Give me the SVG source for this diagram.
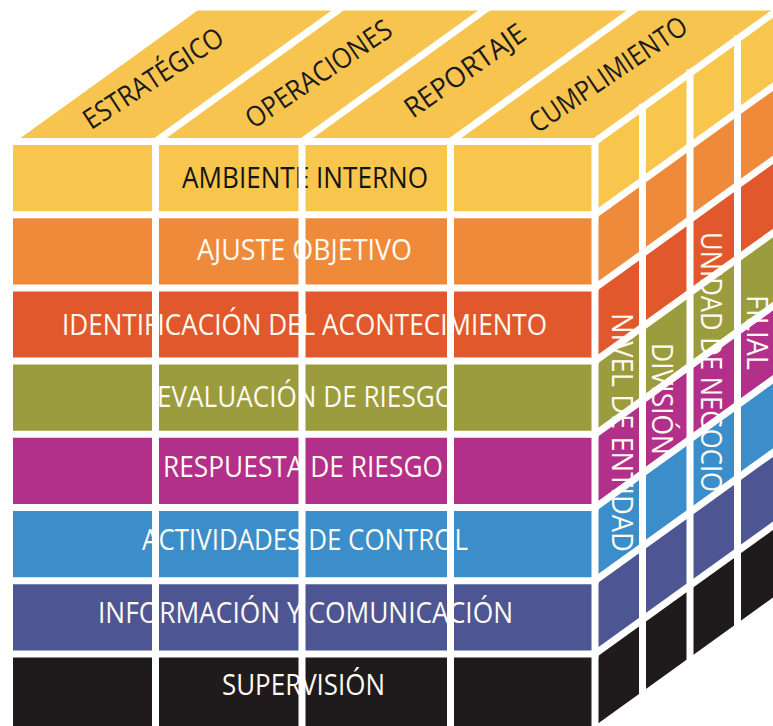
<svg xmlns="http://www.w3.org/2000/svg" width="773" height="726" viewBox="0 0 773 726">
<style>
.grid{stroke:#ffffff;stroke-width:7;fill:none;stroke-linecap:square}
.lbl{font-family:"Open Sans","Noto Sans","DejaVu Sans",sans-serif;font-size:30px;text-anchor:middle}
.w{fill:#fffaf2}
.k{fill:#141414}
.toplbl{font-family:"Open Sans","Noto Sans","DejaVu Sans",sans-serif;font-size:28px;fill:#1a1a1a;text-anchor:middle}
.side{font-family:"Open Sans","Noto Sans","DejaVu Sans",sans-serif;font-size:29px;fill:#fffaf2;text-anchor:middle}
</style>
<rect width="773" height="726" fill="#ffffff"/>

<g id="top-face">
  <polygon points="9.5,141.5 595,141.5 782,6.9 196.5,6.9" fill="#F6C44F"/>
  <text class="toplbl" transform="translate(158.5,86.5) rotate(-33)" textLength="161" lengthAdjust="spacingAndGlyphs">ESTRATÉGICO</text>
  <text class="toplbl" transform="translate(324,82) rotate(-34)" textLength="170" lengthAdjust="spacingAndGlyphs">OPERACIONES</text>
  <text class="toplbl" transform="translate(470.5,78.5) rotate(-35)" textLength="141" lengthAdjust="spacingAndGlyphs">REPORTAJE</text>
  <text class="toplbl" transform="translate(613.5,82.5) rotate(-34)" textLength="184" lengthAdjust="spacingAndGlyphs">CUMPLIMIENTO</text>
</g>

<g id="row-ambiente">
  <rect x="9.5" y="141.5" width="585.5" height="73.2" fill="#F8C64D"/>
  <polygon points="595,141.5 782,6.9 782,80.1 595,214.7" fill="#F8C64D"/>
  <text class="lbl k" x="305" y="188" textLength="246" lengthAdjust="spacingAndGlyphs">AMBIENTE INTERNO</text>
</g>
<g id="row-ajuste">
  <rect x="9.5" y="214.7" width="585.5" height="73.2" fill="#EF8A3A"/>
  <polygon points="595,214.7 782,80.1 782,153.3 595,287.9" fill="#EF8A3A"/>
  <text class="lbl w" x="304.5" y="260" textLength="215" lengthAdjust="spacingAndGlyphs">AJUSTE OBJETIVO</text>
</g>
<g id="row-identificacion">
  <rect x="9.5" y="287.9" width="585.5" height="73.2" fill="#E2582D"/>
  <polygon points="595,287.9 782,153.3 782,226.5 595,361.1" fill="#E2582D"/>
  <text class="lbl w" x="304.5" y="335" textLength="485" lengthAdjust="spacingAndGlyphs">IDENTIFICACIÓN DEL ACONTECIMIENTO</text>
</g>
<g id="row-evaluacion">
  <rect x="9.5" y="361.1" width="585.5" height="73.2" fill="#9A9C3D"/>
  <polygon points="595,361.1 782,226.5 782,299.7 595,434.3" fill="#9A9C3D"/>
  <text class="lbl w" x="306" y="407" textLength="298" lengthAdjust="spacingAndGlyphs">EVALUACIÓN DE RIESGO</text>
</g>
<g id="row-respuesta">
  <rect x="9.5" y="434.3" width="585.5" height="73.2" fill="#B22F8A"/>
  <polygon points="595,434.3 782,299.7 782,372.9 595,507.5" fill="#B22F8A"/>
  <text class="lbl w" x="303" y="477" textLength="280" lengthAdjust="spacingAndGlyphs">RESPUESTA DE RIESGO</text>
</g>
<g id="row-actividades">
  <rect x="9.5" y="507.5" width="585.5" height="73.2" fill="#3B8ECA"/>
  <polygon points="595,507.5 782,372.9 782,446.1 595,580.7" fill="#3B8ECA"/>
  <text class="lbl w" x="305" y="550" textLength="326" lengthAdjust="spacingAndGlyphs">ACTIVIDADES DE CONTROL</text>
</g>
<g id="row-informacion">
  <rect x="9.5" y="580.7" width="585.5" height="73.2" fill="#4D5593"/>
  <polygon points="595,580.7 782,446.1 782,519.3 595,653.9" fill="#4D5593"/>
  <text class="lbl w" x="305.5" y="623" textLength="415" lengthAdjust="spacingAndGlyphs">INFORMACIÓN Y COMUNICACIÓN</text>
</g>
<g id="row-supervision">
  <rect x="9.5" y="653.9" width="585.5" height="76.1" fill="#1F1B1D"/>
  <polygon points="595,653.9 782,519.3 782,595.4 595,730" fill="#1F1B1D"/>
  <text class="lbl w" x="303.5" y="695" textLength="163" lengthAdjust="spacingAndGlyphs">SUPERVISIÓN</text>
</g>

<g id="level-entidad">
  <text class="side" transform="translate(622,432.5) rotate(90)" y="10" textLength="239" lengthAdjust="spacingAndGlyphs">NIVEL DE ENTIDAD</text>
</g>
<g id="level-division">
  <text class="side" transform="translate(662,399) rotate(90)" y="10" textLength="112" lengthAdjust="spacingAndGlyphs">DIVISIÓN</text>
</g>
<g id="level-unidad">
  <text class="side" transform="translate(711,362) rotate(90)" y="10" textLength="260" lengthAdjust="spacingAndGlyphs">UNIDAD DE NEGOCIO</text>
</g>
<g id="level-filial">
  <text class="side" transform="translate(757,332.5) rotate(90)" y="10" textLength="75" lengthAdjust="spacingAndGlyphs">FILIAL</text>
</g>

<g id="grid-lines" class="grid">
  <line x1="9.5" y1="141.5" x2="196.5" y2="6.9"/>
  <line x1="196.5" y1="6.9" x2="782" y2="6.9"/>
  <line x1="155.5" y1="141.5" x2="342.5" y2="6.9"/>
  <line x1="302" y1="141.5" x2="489" y2="6.9"/>
  <line x1="450.5" y1="141.5" x2="637.5" y2="6.9"/>
  <line x1="9.5" y1="141.5" x2="9.5" y2="730"/>
  <line x1="155.5" y1="141.5" x2="155.5" y2="730"/>
  <line x1="302" y1="141.5" x2="302" y2="730"/>
  <line x1="450.5" y1="141.5" x2="450.5" y2="730"/>
  <line x1="595" y1="141.5" x2="595" y2="730"/>
  <line x1="9.5" y1="141.5" x2="595" y2="141.5"/>
  <line x1="9.5" y1="214.7" x2="595" y2="214.7"/>
  <line x1="9.5" y1="287.9" x2="595" y2="287.9"/>
  <line x1="9.5" y1="361.1" x2="595" y2="361.1"/>
  <line x1="9.5" y1="434.3" x2="595" y2="434.3"/>
  <line x1="9.5" y1="507.5" x2="595" y2="507.5"/>
  <line x1="9.5" y1="580.7" x2="595" y2="580.7"/>
  <line x1="9.5" y1="653.9" x2="595" y2="653.9"/>
  <line x1="595" y1="141.5" x2="782" y2="6.9"/>
  <line x1="595" y1="214.7" x2="782" y2="80.1"/>
  <line x1="595" y1="287.9" x2="782" y2="153.3"/>
  <line x1="595" y1="361.1" x2="782" y2="226.5"/>
  <line x1="595" y1="434.3" x2="782" y2="299.7"/>
  <line x1="595" y1="507.5" x2="782" y2="372.9"/>
  <line x1="595" y1="580.7" x2="782" y2="446.1"/>
  <line x1="595" y1="653.9" x2="782" y2="519.3"/>
  <line x1="595" y1="730" x2="782" y2="595.4"/>
  <line x1="642.5" y1="107.3" x2="642.5" y2="695.8"/>
  <line x1="690" y1="73.1" x2="690" y2="661.6"/>
  <line x1="737.5" y1="38.9" x2="737.5" y2="627.4"/>
</g>
</svg>
